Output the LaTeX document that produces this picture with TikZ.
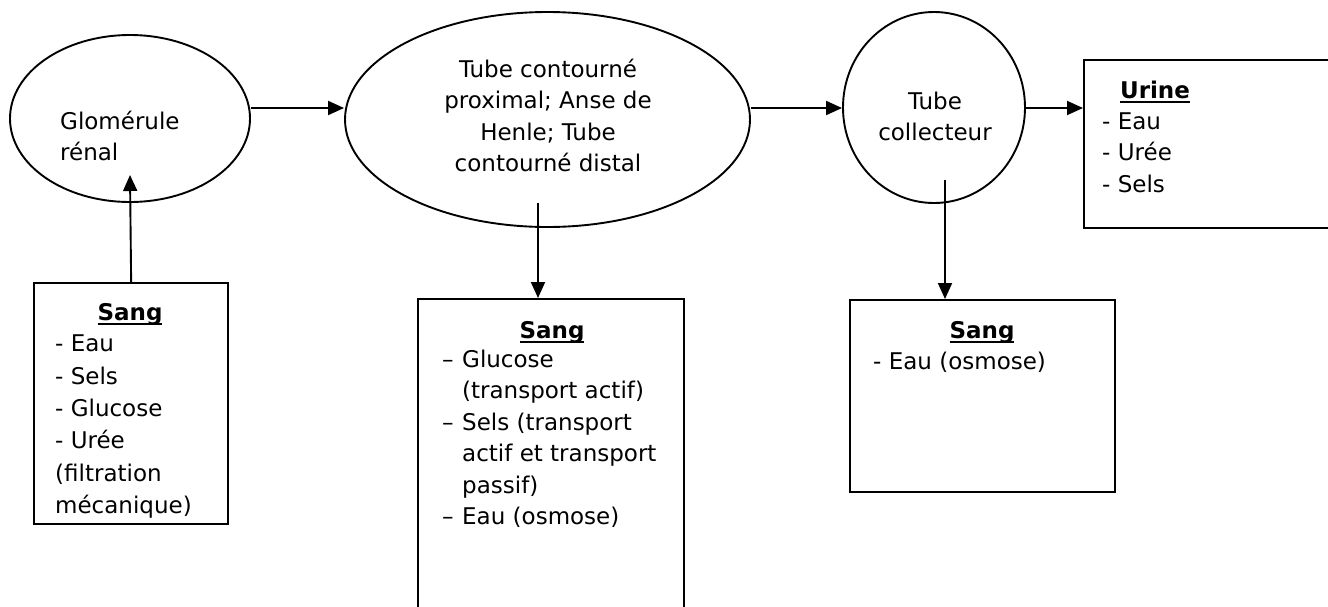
\documentclass[tikz,border=0pt]{standalone}
\usepackage{fontspec}
\setmainfont{DejaVu Sans}
\usepackage{tikz}
\usetikzlibrary{calc,arrows.meta,shapes.geometric}
\tikzset{>={Triangle[length=16pt,width=14pt]}}
\tikzset{
  oval/.style={draw, ellipse, line width=1.9pt, inner sep=0pt},
  boite/.style={draw, rectangle, line width=2.3pt, anchor=north west, inner sep=0pt},
  txt/.style={inner sep=0pt, font=\fontsize{23}{31.5}\selectfont},
  titre/.style={inner sep=0pt, anchor=base, font=\fontsize{23}{31.5}\selectfont\bfseries},
  fleche/.style={->, line width=1.9pt},
}
\newcommand{\souligne}[1]{\setbox0\hbox{#1}\rlap{\rule[-4.5pt]{\wd0}{2pt}}\box0}

\begin{document}
\begin{tikzpicture}[x=1pt,y=-1pt]
\useasboundingbox (0,0) rectangle (1328,606);
\clip (0,0) rectangle (1328,606);

% nephron
\node[oval, minimum width=240pt, minimum height=167pt] (glom) at (130,118.5) {};
\node[txt, align=left, anchor=north west] (glomtxt) at (60,107) {\strut Glomérule\\rénal};

\node[oval, minimum width=405pt, minimum height=215pt] (tubes) at (547.5,119.5) {};
\node[txt, align=center, anchor=north] (tubestxt) at (548,55) {\strut Tube contourné\\proximal; Anse de\\Henle; Tube\\contourné distal};

\node[oval, minimum width=182pt, minimum height=191pt] (collect) at (934,107.5) {};
\node[txt, align=center, anchor=north] (collecttxt) at (935,87) {\strut Tube\\collecteur};

% urine
\node[boite, minimum width=280pt, minimum height=168pt] (urine) at (1083,59) {};
\node[titre] (urinetit) at (1155,98) {\souligne{Urine}};
\node[txt, align=left, anchor=north west] (urinetxt) at (1102,107) {\strut- Eau\\- Urée\\- Sels};

% sang
\node[boite, minimum width=194pt, minimum height=241pt] (sang1) at (33,282) {};
\node[titre] (sang1tit) at (130,320) {\souligne{Sang}};
\begin{scope}
  \clip (sang1.south west) rectangle (sang1.north east);
  \node[txt, align=left, anchor=north west, font=\fontsize{23}{32.3}\selectfont] (sang1txt) at (55,329) {\strut- Eau\\- Sels\\- Glucose\\- Urée\\(filtration\\mécanique)};
\end{scope}

\node[boite, minimum width=266pt, minimum height=340pt] (sang2) at (417,298) {};
\node[titre] (sang2tit) at (552,338) {\souligne{Sang}};
\node[txt, align=left, anchor=north west] (sang2txt) at (442,345) {\strut\makebox[20pt][l]{–}Glucose\\\hspace*{20pt}(transport actif)\\\makebox[20pt][l]{–}Sels (transport\\\hspace*{20pt}actif et transport\\\hspace*{20pt}passif)\\\makebox[20pt][l]{–}Eau (osmose)};

\node[boite, minimum width=265pt, minimum height=192pt] (sang3) at (849,299) {};
\node[titre] (sang3tit) at (982,338) {\souligne{Sang}};
\node[txt, anchor=base west] (sang3txt) at (873,369) {- Eau (osmose)};

% fleches
\draw[fleche] (glom.east |- 0,108) -- (tubes.west |- 0,108);
\draw[fleche] (tubes.east |- 0,108) -- (collect.west |- 0,108);
\draw[fleche] (collect.east |- 0,108) -- (urine.west |- 0,108);

\coordinate (glomin) at (130,175);
\draw[fleche] (sang1.north) -- (glomin);

\coordinate (tubesout) at (538,203);
\draw[fleche] (tubesout) -- (tubesout |- sang2.north);%vers le sang

\coordinate (collectout) at (945,180);
\draw[fleche] (collectout) -- (collectout |- sang3.north);
\end{tikzpicture}
\end{document}
